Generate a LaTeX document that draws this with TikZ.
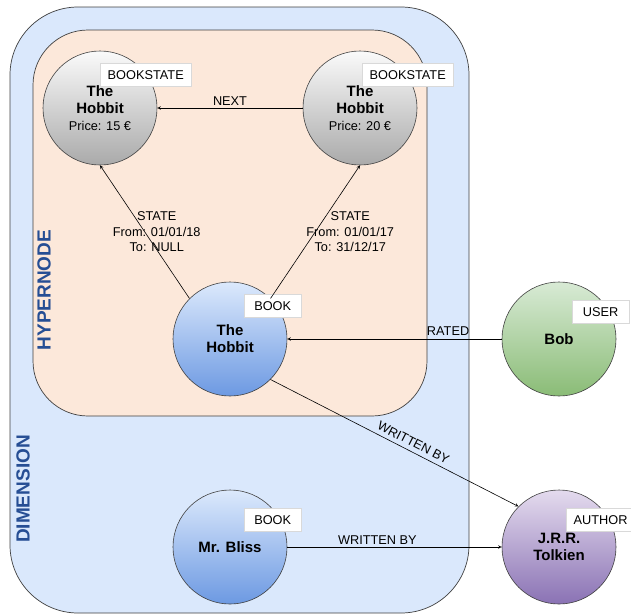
\documentclass[tikz,border=0pt]{standalone}
\usepackage{fontspec}
\setmainfont{Liberation Sans}
\usetikzlibrary{arrows, positioning}

\definecolor{dimfill}{RGB}{218,232,252}
\definecolor{hyperfill}{RGB}{252,232,218}
\definecolor{titleblue}{RGB}{38,78,148}
\definecolor{graytop}{RGB}{250,250,250}
\definecolor{graybottom}{RGB}{170,170,170}
\definecolor{bluetop}{RGB}{220,233,252}
\definecolor{bluebottom}{RGB}{108,153,226}
\definecolor{greentop}{RGB}{216,234,213}
\definecolor{greenbottom}{RGB}{138,188,118}
\definecolor{purpletop}{RGB}{228,219,238}
\definecolor{purplebottom}{RGB}{138,114,180}

\newcommand{\lblfont}{\fontsize{12.75}{15.5}\selectfont}
\newcommand{\bignamefont}{\fontsize{15}{17}\selectfont\bfseries}
\newcommand{\boxtitlefont}{\fontsize{19}{22}\selectfont\bfseries}

\tikzstyle{container} = [
    rectangle,
    draw=black!75, line width=0.7pt
]
\tikzstyle{dimension} = [
    container, rounded corners=68pt,
    minimum width=459pt, minimum height=606pt,
    fill=dimfill
]
\tikzstyle{hypernode} = [
    container, rounded corners=55pt,
    minimum width=394pt, minimum height=386pt,
    fill=hyperfill
]
\tikzstyle{boxtitle} = [
    rotate=90,
    text=titleblue, font=\boxtitlefont
]
\tikzstyle{entity} = [
    circle,
    minimum size=114pt, inner sep=0pt,
    text centered, align=center, font=\bignamefont,
    draw=black!75, line width=0.6pt
]
\tikzstyle{bookstate} = [entity, top color=graytop, bottom color=graybottom]
\tikzstyle{book} = [entity, top color=bluetop, bottom color=bluebottom]
\tikzstyle{user} = [entity, top color=greentop, bottom color=greenbottom]
\tikzstyle{author} = [entity, top color=purpletop, bottom color=purplebottom]
\tikzstyle{tag} = [
    rectangle, anchor=north west,
    minimum width=57pt, minimum height=23pt, inner xsep=7.5pt,
    font=\lblfont,
    draw=black!15, fill=white
]
\tikzstyle{edgelabel} = [font=\lblfont, align=center]
\tikzstyle{arrow} = [line width=0.6pt,->,>=stealth]

\begin{document}
\begin{tikzpicture}[x=1pt, y=1pt, node distance=208pt]
        \useasboundingbox (0,0) rectangle (631,-614);

        % Draw containers
        \node (dim) [dimension] at (239.5,-310) {};
        \node (hyper) [hypernode] at (230,-223) {};
        \node (dimtitle) [boxtitle] at (23,-489) {DIMENSION};
        \node (hypertitle) [boxtitle] at (44,-290) {HYPERNODE};

        % Draw blocks
        \node (hobbit) [book] at (230,-339) {The\\Hobbit};
        \node (bliss) [book, below of=hobbit] {Mr. Bliss};
        \node (old) [bookstate, above of=hobbit, xshift=-130pt, yshift=23pt] {The\\Hobbit\\{\lblfont\mdseries Price: 15 €}};
        \node (new) [bookstate, above of=hobbit, xshift=130pt, yshift=23pt] {The\\Hobbit\\{\lblfont\mdseries Price: 20 €}};
        \node (bob) [user, right of=hobbit, xshift=121pt] {Bob};
        \node (tolkien) [author, right of=bliss, xshift=121pt] {J.R.R.\\Tolkien};

        % Draw tags
        \node (oldtag) [tag] at ([shift={(0,45)}]old.center) {BOOKSTATE};
        \node (newtag) [tag] at ([shift={(2,45)}]new.center) {BOOKSTATE};
        \node (hobbittag) [tag] at ([shift={(14,45)}]hobbit.center) {BOOK};
        \node (blisstag) [tag] at ([shift={(14,39)}]bliss.center) {BOOK};
        \node (bobtag) [tag] at ([shift={(13,39)}]bob.center) {USER};
        \node (tolkientag) [tag] at ([shift={(7,39)}]tolkien.center) {AUTHOR};

        % Draw arrows
        \draw [arrow] (new) -- node[edgelabel, yshift=7pt] {NEXT} (old);
        \draw [arrow] (hobbit.135) -- node[edgelabel, xshift=12pt] {STATE\\From: 01/01/18\\To: NULL} (old.south);
        \draw [arrow] (hobbit.45) -- node[edgelabel, xshift=35pt] {STATE\\From: 01/01/17\\To: 31/12/17} (new.south);
        \draw [arrow] (bob) -- node[edgelabel, pos=.25, yshift=8pt] {RATED} (hobbit);
        \draw [arrow] (hobbit.-45) -- node[edgelabel, sloped, above=1pt, pos=.56] {WRITTEN BY} (tolkien.135);
        \draw [arrow] (bliss) -- node[edgelabel, pos=.42, yshift=7pt] {WRITTEN BY} (tolkien);
    \end{tikzpicture}
\end{document}
